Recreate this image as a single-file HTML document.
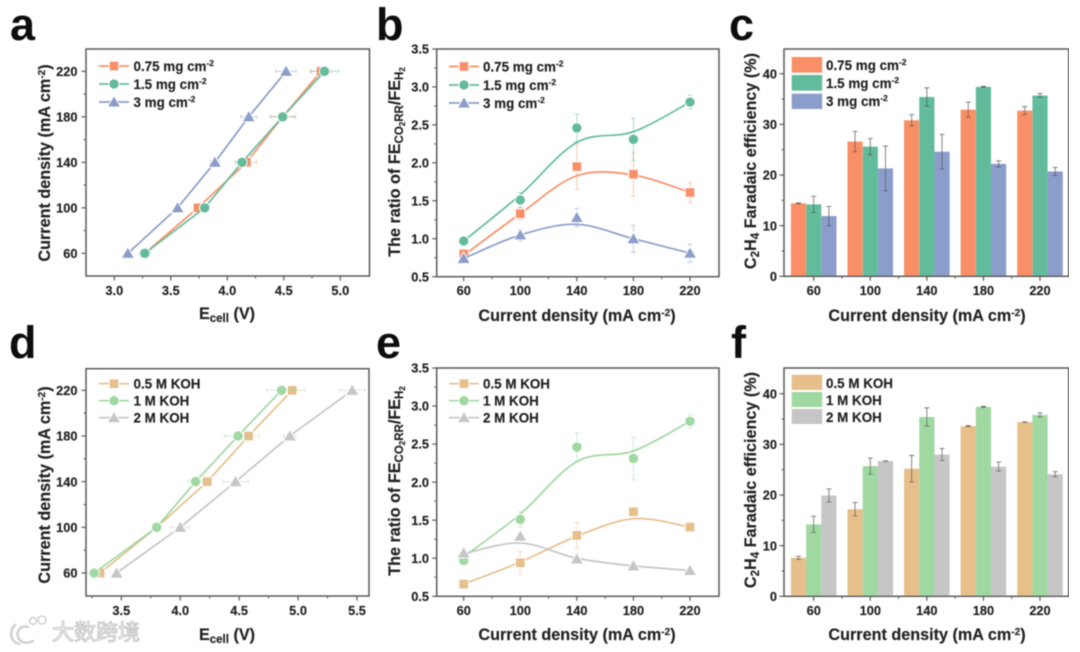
<!DOCTYPE html>
<html lang="en">
<head>
<meta charset="utf-8">
<title>CO2RR performance panels</title>
<style>
html,body{margin:0;padding:0;background:#fff;width:1080px;height:652px;overflow:hidden}
svg{display:block}
text{font-family:"Liberation Sans","Noto Sans CJK SC",sans-serif;font-weight:700;fill:#222;stroke:#222;stroke-width:.15px}
.tick{font-size:12.8px}
.title{font-size:16.2px}
.leg{font-size:13.4px}
.letter{font-size:45px;fill:#111;stroke:none}
.wm{font-size:22px;font-weight:400;fill:#fff;stroke:#c4c4c4;stroke-width:1px;font-family:"Noto Sans CJK SC",sans-serif}
</style>
</head>
<body>
<svg id="figure" xmlns="http://www.w3.org/2000/svg" width="1080" height="652" viewBox="0 0 1080 652">
<defs><filter id="soft" x="0" y="0" width="100%" height="100%"><feGaussianBlur stdDeviation="0.5"/></filter></defs>
<g id="root" filter="url(#soft)">
  <text class="letter" x="10" y="40">a</text>
  <text class="letter" x="376" y="40">b</text>
  <text class="letter" x="729" y="40">c</text>
  <text class="letter" x="9" y="358">d</text>
  <text class="letter" x="376" y="358">e</text>
  <text class="letter" x="731" y="358">f</text>

  <!-- axis titles -->
  <text class="title" text-anchor="middle" x="227" y="319">E<tspan font-size="11.5" dy="3">cell</tspan><tspan dy="-3"> (V)</tspan></text>
  <text class="title" text-anchor="middle" transform="translate(50,163) rotate(-90)">Current density (mA cm<tspan font-size="10" dy="-5">-2</tspan><tspan dy="5">)</tspan></text>
  <text class="title" text-anchor="middle" x="577" y="321">Current density (mA cm<tspan font-size="10" dy="-5">-2</tspan><tspan dy="5">)</tspan></text>
  <text class="title" text-anchor="middle" transform="translate(400,162) rotate(-90)">The ratio of FE<tspan font-size="11.5" dy="3">CO</tspan><tspan font-size="8" dy="2">2</tspan><tspan font-size="11.5" dy="-2">RR</tspan><tspan dy="-3">/FE</tspan><tspan font-size="11.5" dy="3">H</tspan><tspan font-size="8" dy="2">2</tspan></text>
  <text class="title" text-anchor="middle" x="927" y="321">Current density (mA cm<tspan font-size="10" dy="-5">-2</tspan><tspan dy="5">)</tspan></text>
  <text class="title" text-anchor="middle" transform="translate(756,161) rotate(-90)">C<tspan font-size="11.5" dy="3">2</tspan><tspan dy="-3">H</tspan><tspan font-size="11.5" dy="3">4</tspan><tspan dy="-3"> Faradaic efficiency (%)</tspan></text>

  <text class="title" text-anchor="middle" x="227" y="640">E<tspan font-size="11.5" dy="3">cell</tspan><tspan dy="-3"> (V)</tspan></text>
  <text class="title" text-anchor="middle" transform="translate(50,485) rotate(-90)">Current density (mA cm<tspan font-size="10" dy="-5">-2</tspan><tspan dy="5">)</tspan></text>
  <text class="title" text-anchor="middle" x="577" y="640">Current density (mA cm<tspan font-size="10" dy="-5">-2</tspan><tspan dy="5">)</tspan></text>
  <text class="title" text-anchor="middle" transform="translate(400,481) rotate(-90)">The ratio of FE<tspan font-size="11.5" dy="3">CO</tspan><tspan font-size="8" dy="2">2</tspan><tspan font-size="11.5" dy="-2">RR</tspan><tspan dy="-3">/FE</tspan><tspan font-size="11.5" dy="3">H</tspan><tspan font-size="8" dy="2">2</tspan></text>
  <text class="title" text-anchor="middle" x="927" y="640">Current density (mA cm<tspan font-size="10" dy="-5">-2</tspan><tspan dy="5">)</tspan></text>
  <text class="title" text-anchor="middle" transform="translate(756,480) rotate(-90)">C<tspan font-size="11.5" dy="3">2</tspan><tspan dy="-3">H</tspan><tspan font-size="11.5" dy="3">4</tspan><tspan dy="-3"> Faradaic efficiency (%)</tspan></text>

  <!-- legend labels -->
  <text class="leg" x="133.5" y="71">0.75 mg cm<tspan font-size="8.5" dy="-5">-2</tspan></text>
  <text class="leg" x="133.5" y="89">1.5 mg cm<tspan font-size="8.5" dy="-5">-2</tspan></text>
  <text class="leg" x="133.5" y="107">3 mg cm<tspan font-size="8.5" dy="-5">-2</tspan></text>
  <text class="leg" x="483" y="71.5">0.75 mg cm<tspan font-size="8.5" dy="-5">-2</tspan></text>
  <text class="leg" x="483" y="90">1.5 mg cm<tspan font-size="8.5" dy="-5">-2</tspan></text>
  <text class="leg" x="483" y="108">3 mg cm<tspan font-size="8.5" dy="-5">-2</tspan></text>
  <text class="leg" x="826" y="70">0.75 mg cm<tspan font-size="8.5" dy="-5">-2</tspan></text>
  <text class="leg" x="826" y="88">1.5 mg cm<tspan font-size="8.5" dy="-5">-2</tspan></text>
  <text class="leg" x="826" y="106">3 mg cm<tspan font-size="8.5" dy="-5">-2</tspan></text>
  <text class="leg" x="133.5" y="388.5">0.5 M KOH</text>
  <text class="leg" x="133.5" y="405.5">1 M KOH</text>
  <text class="leg" x="133.5" y="422.5">2 M KOH</text>
  <text class="leg" x="483" y="388.5">0.5 M KOH</text>
  <text class="leg" x="483" y="405.5">1 M KOH</text>
  <text class="leg" x="483" y="422.5">2 M KOH</text>
  <text class="leg" x="826" y="388">0.5 M KOH</text>
  <text class="leg" x="826" y="405">1 M KOH</text>
  <text class="leg" x="826" y="422">2 M KOH</text>

  <!-- watermark -->
  <g>
    <g fill="none" stroke="#d2d2d2" stroke-width="2.6" stroke-linecap="round">
      <path d="M15 625 C9 630 10 642 19 644"/>
      <path d="M28 627 C20 625 16 632 18 637 C20 643 27 644 33 641"/>
      <circle cx="33" cy="621" r="3.4" stroke-width="1.6"/>
      <circle cx="42" cy="620" r="4" stroke-width="1.6"/>
    </g>
    <text class="wm" x="52" y="640">大数跨境</text>
  </g>
</g>
</svg>

<script>
// ---------- shared categories and tick labels ----------
const categories = [60, 100, 140, 180, 220];
const densityMinorTicks = [80, 120, 160, 200];
const ecellTicksA = ["3.0", "3.5", "4.0", "4.5", "5.0"];
const ecellMinorA = [3.25, 3.75, 4.25, 4.75];
const ecellTicksD = ["3.5", "4.0", "4.5", "5.0", "5.5"];
const ecellMinorD = [3.25, 3.75, 4.25, 4.75, 5.25];
const ratioTicks = ["0.5", "1.0", "1.5", "2.0", "2.5", "3.0", "3.5"];
const ratioMinor = [0.75, 1.25, 1.75, 2.25, 2.75, 3.25];
const feTicks = ["0", "10", "20", "30", "40"];
const feMinor = [5, 15, 25, 35];

// ---------- panel a: Ecell (V) ----------
const aEcell075 = [3.27, 3.74, 4.17, 4.49, 4.83];
const aErr075 = [0.03, 0.03, 0.09, 0.10, 0.09];
const aEcell15 = [3.27, 3.80, 4.13, 4.49, 4.86];
const aErr15 = [0.05, 0.03, 0.06, 0.115, 0.125];
const aEcell3 = [3.12, 3.56, 3.89, 4.19, 4.52];
const aErr3 = [0.03, 0.03, 0.04, 0.07, 0.09];

// ---------- panel b: FE ratio ----------
const bRatio075 = [0.80, 1.33, 1.95, 1.85, 1.61];
const bErr075 = [0.05, 0.08, 0.30, 0.29, 0.13];
const bFit075 = [0.78, 1.33, 1.83, 1.84, 1.61];
const bRatio15 = [0.97, 1.51, 2.46, 2.31, 2.80];
const bErr15 = [0.03, 0.10, 0.18, 0.28, 0.09];
const bFit15 = [0.97, 1.58, 2.27, 2.41, 2.80];
const bRatio3 = [0.74, 1.05, 1.28, 1.00, 0.81];
const bErr3 = [0.03, 0.08, 0.12, 0.18, 0.12];
const bFit3 = [0.74, 1.05, 1.19, 1.00, 0.81];

// ---------- panel c: C2H4 FE (%) ----------
const cFe075 = [14.4, 26.6, 30.8, 32.9, 32.7];
const cErr075 = [0.1, 2.0, 1.1, 1.5, 0.8];
const cFe15 = [14.2, 25.6, 35.4, 37.4, 35.7];
const cErr15 = [1.6, 1.6, 1.8, 0.1, 0.4];
const cFe3 = [11.9, 21.3, 24.6, 22.2, 20.7];
const cErr3 = [1.9, 4.4, 3.4, 0.6, 0.8];

// ---------- panel d: Ecell (V) ----------
const dEcell05 = [3.32, 3.80, 4.23, 4.58, 4.95];
const dErr05 = [0.02, 0.03, 0.04, 0.09, 0.11];
const dEcell1 = [3.27, 3.80, 4.13, 4.49, 4.86];
const dErr1 = [0.05, 0.03, 0.06, 0.115, 0.125];
const dEcell2 = [3.46, 4.00, 4.47, 4.93, 5.46];
const dErr2 = [0.03, 0.08, 0.11, 0.05, 0.11];

// ---------- panel e: FE ratio ----------
const eRatio05 = [0.66, 0.94, 1.30, 1.61, 1.41];
const eErr05 = [0.03, 0.15, 0.17, 0.03, 0.03];
const eFit05 = [0.66, 0.95, 1.29, 1.52, 1.41];
const eRatio1 = [0.97, 1.51, 2.46, 2.31, 2.80];
const eErr1 = [0.03, 0.10, 0.19, 0.28, 0.09];
const eFit1 = [1.02, 1.58, 2.27, 2.41, 2.80];
const eRatio2 = [1.07, 1.29, 0.99, 0.90, 0.84];
const eErr2 = [0.02, 0.03, 0.03, 0.02, 0.02];
const eFit2 = [1.06, 1.20, 1.00, 0.90, 0.84];

// ---------- panel f: C2H4 FE (%) ----------
const fFe05 = [7.6, 17.2, 25.2, 33.6, 34.4];
const fErr05 = [0.3, 1.3, 2.6, 0.1, 0.05];
const fFe1 = [14.2, 25.7, 35.4, 37.4, 35.8];
const fErr1 = [1.6, 1.6, 1.8, 0.1, 0.4];
const fFe2 = [19.9, 26.7, 28.0, 25.6, 24.1];
const fErr2 = [1.3, 0.05, 1.2, 0.9, 0.5];

// ---------- helpers ----------
const NS = "http://www.w3.org/2000/svg";
const root = document.getElementById("root");
const AXIS = "#5a5a5a";

function make(tag, parent, props) {
  const node = document.createElementNS(NS, tag);
  for (const k in props) node.setAttribute(k, props[k]);
  parent.appendChild(node);
  return node;
}
function scale(d0, d1, r0, r1) {
  return v => r0 + (v - d0) * (r1 - r0) / (d1 - d0);
}
function smoothPath(pts) {
  let d = "M" + pts[0][0] + " " + pts[0][1];
  for (let i = 0; i < pts.length - 1; i++) {
    const p0 = pts[Math.max(i - 1, 0)], p1 = pts[i], p2 = pts[i + 1], p3 = pts[Math.min(i + 2, pts.length - 1)];
    const c1x = p1[0] + (p2[0] - p0[0]) / 6, c1y = p1[1] + (p2[1] - p0[1]) / 6;
    const c2x = p2[0] - (p3[0] - p1[0]) / 6, c2y = p2[1] - (p3[1] - p1[1]) / 6;
    d += " C" + c1x + " " + c1y + " " + c2x + " " + c2y + " " + p2[0] + " " + p2[1];
  }
  return d;
}
function drawMarker(parent, kind, cx, cy, color) {
  let m;
  if (kind === "square") {
    m = make("rect", parent, { x: cx - 4.8, y: cy - 4.8, width: 9.6, height: 9.6, fill: color, stroke: "#fff", "stroke-width": 0.8 });
  } else if (kind === "circle") {
    m = make("circle", parent, { cx: cx, cy: cy, r: 5.2, fill: color, stroke: "#fff", "stroke-width": 0.8 });
  } else {
    m = make("polygon", parent, { points: (cx - 6.6) + "," + (cy + 5) + " " + (cx + 6.6) + "," + (cy + 5) + " " + cx + "," + (cy - 6.4), fill: color, stroke: "#fff", "stroke-width": 0.8 });
  }
  return m;
}
function drawFrame(g, box, sx, sy, xLabels, xVals, xMinor, yLabels, yVals, yMinor, xLabelY, yLabelX) {
  const frame = make("rect", g, { x: box.l, y: box.t, width: box.r - box.l, height: box.b - box.t, fill: "none", stroke: AXIS, "stroke-width": 1.5 });
  
  
  xVals.forEach((v, i) => {
    const t = make("line", g, { x1: sx(v), x2: sx(v), y1: box.b, y2: box.b + 4.5, stroke: AXIS, "stroke-width": 1.2 });
    
    
    const lab = make("text", g, { x: sx(v), y: xLabelY, "text-anchor": "middle", class: "tick" });
    lab.textContent = xLabels[i];
    
    
  });
  xMinor.forEach(v => {
    const t = make("line", g, { x1: sx(v), x2: sx(v), y1: box.b, y2: box.b + 2.5, stroke: AXIS, "stroke-width": 1 });
    
    
  });
  yVals.forEach((v, i) => {
    const t = make("line", g, { x1: box.l - 4.5, x2: box.l, y1: sy(v), y2: sy(v), stroke: AXIS, "stroke-width": 1.2 });
    
    
    const lab = make("text", g, { x: yLabelX, y: sy(v) + 4.6, "text-anchor": "end", class: "tick" });
    lab.textContent = yLabels[i];
    
    
  });
  yMinor.forEach(v => {
    const t = make("line", g, { x1: box.l - 2.5, x2: box.l, y1: sy(v), y2: sy(v), stroke: AXIS, "stroke-width": 1 });
    
    
  });
}
function drawLegendKey(g, x0, x1, y, kind, color) {
  const l = make("line", g, { x1: x0, x2: x1, y1: y, y2: y, stroke: color, "stroke-width": 1.7 });
  
  
  const m = drawMarker(g, kind, (x0 + x1) / 2, y, color);
  
  
}
function drawSwatch(g, x, y0, y1, color) {
  const s = make("rect", g, { x: x, y: y0, width: 30.5, height: y1 - y0, fill: color });
  
  
}
// polarisation panels (a, d): x = Ecell, y = current density
function drawEcellSeries(g, sx, sy, name, color, kind, ecell, err) {
  const pts = categories.map((c, i) => [sx(ecell[i]), sy(c)]);
  categories.forEach((c, i) => {
    const e = make("path", g, {
      d: "M" + sx(ecell[i] - err[i]) + " " + sy(c) + " H" + sx(ecell[i] + err[i]) +
         " M" + sx(ecell[i] - err[i]) + " " + (sy(c) - 2) + " v4 M" + sx(ecell[i] + err[i]) + " " + (sy(c) - 2) + " v4",
      fill: "none", stroke: color, "stroke-width": 1, opacity: 0.5 });
    
    
  });
  const line = make("polyline", g, { points: pts.map(p => p.join(",")).join(" "), fill: "none", stroke: color, "stroke-width": 1.7 });
  
  
  pts.forEach(p => {
    const m = drawMarker(g, kind, p[0], p[1], color);
    
    
  });
}
// ratio panels (b, e): x = current density, y = ratio; smooth fit + points
function drawRatioSeries(g, sx, sy, name, color, kind, ratio, err, fit) {
  categories.forEach((c, i) => {
    const x = sx(c);
    const e = make("path", g, {
      d: "M" + x + " " + sy(ratio[i] - err[i]) + " V" + sy(ratio[i] + err[i]) +
         " M" + (x - 2.5) + " " + sy(ratio[i] - err[i]) + " h5 M" + (x - 2.5) + " " + sy(ratio[i] + err[i]) + " h5",
      fill: "none", stroke: color, "stroke-width": 1, opacity: 0.5 });
    
    
  });
  const curve = make("path", g, { d: smoothPath(categories.map((c, i) => [sx(c), sy(fit[i])])), fill: "none", stroke: color, "stroke-width": 1.7 });
  
  
  categories.forEach((c, i) => {
    const m = drawMarker(g, kind, sx(c), sy(ratio[i]), color);
    
    
  });
}
// bar panels (c, f)
function drawBarSeries(g, sx, sy, name, color, offset, values, err) {
  const w = 15.2;
  categories.forEach((c, i) => {
    const x = sx(c) + offset * w - w / 2;
    const b = make("rect", g, { x: x, y: sy(values[i]), width: w, height: sy(0) - sy(values[i]), fill: color });
    
    
  });
  categories.forEach((c, i) => {
    const x = sx(c) + offset * w;
    const e = make("path", g, {
      d: "M" + x + " " + sy(values[i] - err[i]) + " V" + sy(values[i] + err[i]) +
         " M" + (x - 2.5) + " " + sy(values[i] - err[i]) + " h5 M" + (x - 2.5) + " " + sy(values[i] + err[i]) + " h5",
      fill: "none", stroke: "#4a4a4a", "stroke-width": 0.9, opacity: 0.75 });
    
    
  });
}
function panelGroup(name) {
  const g = make("g", root, {});
  
  
  return g;
}

// ---------- colours ----------
const ORANGE = "#f98f66", TEAL = "#62bc9c", BLUE = "#8b9dca";
const TAN = "#e6bf8b", LIGHTGREEN = "#a0d8a2", GREY = "#c6c6c6";

// ---------- panel a ----------
(function () {
  const g = panelGroup("panel-a");
  const box = { l: 86, r: 369.5, t: 49, b: 276 };
  const sx = scale(3, 5, 114.3, 340.3), sy = scale(60, 220, 253.3, 71.3);
  drawFrame(g, box, sx, sy, ecellTicksA, ecellTicksA.map(Number), ecellMinorA, categories.map(String), categories, densityMinorTicks, 295, 77.5);
  drawEcellSeries(g, sx, sy, "0.75-mg", ORANGE, "square", aEcell075, aErr075);
  drawEcellSeries(g, sx, sy, "1.5-mg", TEAL, "circle", aEcell15, aErr15);
  drawEcellSeries(g, sx, sy, "3-mg", BLUE, "triangle", aEcell3, aErr3);
  drawLegendKey(g, 99, 129, 66, "square", ORANGE);
  drawLegendKey(g, 99, 129, 84, "circle", TEAL);
  drawLegendKey(g, 99, 129, 102, "triangle", BLUE);
})();

// ---------- panel b ----------
(function () {
  const g = panelGroup("panel-b");
  const box = { l: 436.7, r: 719, t: 49, b: 276.7 };
  const sx = scale(60, 220, 463.7, 690), sy = scale(0.5, 3.5, 276.7, 49);
  drawFrame(g, box, sx, sy, categories.map(String), categories, densityMinorTicks, ratioTicks, ratioTicks.map(Number), ratioMinor, 295, 429);
  drawRatioSeries(g, sx, sy, "0.75-mg", ORANGE, "square", bRatio075, bErr075, bFit075);
  drawRatioSeries(g, sx, sy, "1.5-mg", TEAL, "circle", bRatio15, bErr15, bFit15);
  drawRatioSeries(g, sx, sy, "3-mg", BLUE, "triangle", bRatio3, bErr3, bFit3);
  drawLegendKey(g, 449, 479, 66.5, "square", ORANGE);
  drawLegendKey(g, 449, 479, 85, "circle", TEAL);
  drawLegendKey(g, 449, 479, 103, "triangle", BLUE);
})();

// ---------- panel c ----------
(function () {
  const g = panelGroup("panel-c");
  const box = { l: 784, r: 1068.7, t: 49, b: 276.3 };
  const sx = scale(60, 220, 813.7, 1040), sy = scale(0, 40, 276.3, 73.7);
  drawBarSeries(g, sx, sy, "0.75-mg", ORANGE, -1, cFe075, cErr075);
  drawBarSeries(g, sx, sy, "1.5-mg", TEAL, 0, cFe15, cErr15);
  drawBarSeries(g, sx, sy, "3-mg", BLUE, 1, cFe3, cErr3);
  drawFrame(g, box, sx, sy, categories.map(String), categories, densityMinorTicks, feTicks, feTicks.map(Number), feMinor, 295, 777);
  drawSwatch(g, 791.7, 57, 72.6, ORANGE);
  drawSwatch(g, 791.7, 75, 90.7, TEAL);
  drawSwatch(g, 791.7, 93.7, 109, BLUE);
})();

// ---------- panel d ----------
(function () {
  const g = panelGroup("panel-d");
  const box = { l: 86, r: 369, t: 368.7, b: 596 };
  const sx = scale(3.5, 5.5, 121.3, 357), sy = scale(60, 220, 573, 390.3);
  drawFrame(g, box, sx, sy, ecellTicksD, ecellTicksD.map(Number), ecellMinorD, categories.map(String), categories, densityMinorTicks, 615, 77.5);
  drawEcellSeries(g, sx, sy, "0.5-m-koh", TAN, "square", dEcell05, dErr05);
  drawEcellSeries(g, sx, sy, "1-m-koh", LIGHTGREEN, "circle", dEcell1, dErr1);
  drawEcellSeries(g, sx, sy, "2-m-koh", GREY, "triangle", dEcell2, dErr2);
  drawLegendKey(g, 99, 129, 383.7, "square", TAN);
  drawLegendKey(g, 99, 129, 400.7, "circle", LIGHTGREEN);
  drawLegendKey(g, 99, 129, 417.7, "triangle", GREY);
})();

// ---------- panel e ----------
(function () {
  const g = panelGroup("panel-e");
  const box = { l: 436.7, r: 719, t: 368, b: 596.3 };
  const sx = scale(60, 220, 463.7, 690), sy = scale(0.5, 3.5, 596.3, 368);
  drawFrame(g, box, sx, sy, categories.map(String), categories, densityMinorTicks, ratioTicks, ratioTicks.map(Number), ratioMinor, 615, 429);
  drawRatioSeries(g, sx, sy, "0.5-m-koh", TAN, "square", eRatio05, eErr05, eFit05);
  drawRatioSeries(g, sx, sy, "1-m-koh", LIGHTGREEN, "circle", eRatio1, eErr1, eFit1);
  drawRatioSeries(g, sx, sy, "2-m-koh", GREY, "triangle", eRatio2, eErr2, eFit2);
  drawLegendKey(g, 449, 479, 383.7, "square", TAN);
  drawLegendKey(g, 449, 479, 400.7, "circle", LIGHTGREEN);
  drawLegendKey(g, 449, 479, 417.7, "triangle", GREY);
})();

// ---------- panel f ----------
(function () {
  const g = panelGroup("panel-f");
  const box = { l: 784, r: 1068.7, t: 368, b: 596.3 };
  const sx = scale(60, 220, 813.7, 1040), sy = scale(0, 40, 596.3, 393.7);
  drawBarSeries(g, sx, sy, "0.5-m-koh", TAN, -1, fFe05, fErr05);
  drawBarSeries(g, sx, sy, "1-m-koh", LIGHTGREEN, 0, fFe1, fErr1);
  drawBarSeries(g, sx, sy, "2-m-koh", GREY, 1, fFe2, fErr2);
  drawFrame(g, box, sx, sy, categories.map(String), categories, densityMinorTicks, feTicks, feTicks.map(Number), feMinor, 615, 777);
  drawSwatch(g, 791.7, 374.7, 390, TAN);
  drawSwatch(g, 791.7, 392, 407, LIGHTGREEN);
  drawSwatch(g, 791.7, 409, 424, GREY);
})();
</script>
</body>
</html>
